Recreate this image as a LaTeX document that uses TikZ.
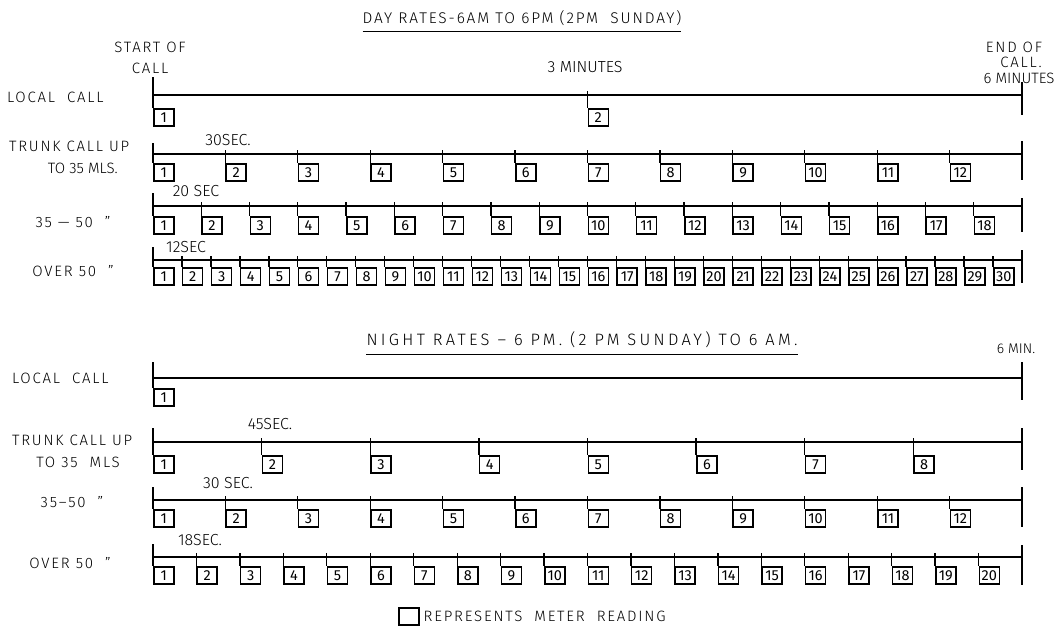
\documentclass[tikz,border=0pt]{standalone}
\usepackage{fontspec}
\setmainfont{Fira Sans}[UprightFont={* Light}]
\newfontfamily\lblfont{Fira Sans}[UprightFont={* Light},LetterSpace=12]
\newfontfamily\widefont{Fira Sans}[UprightFont={* Light},LetterSpace=20]
\newfontfamily\numfont{Fira Sans}
\newcommand\mrow[5]{%
  \coordinate (#1s) at (153,#5);
  \coordinate (#1a) at (153,#2);
  \coordinate (#1b) at (1022,#2);
  \draw[tl] (#1a) -- (#1b);
  \pgfmathsetmacro\stp{869/#4}
  \foreach \i in {1,...,#4} {
    \pgfmathsetmacro\xx{153+(\i-1)*\stp}
    \node[mbox] (#1-\i) at (\xx,#3) {\i};
    \coordinate (#1t-\i) at (\xx,#2-4);
    \draw[tk] (#1t-\i) -- (#1-\i.north west);
  }
  \draw[tk] (#1s) -- (#1-1.north west);
}
\newcommand\lastmark[3]{%
  \coordinate (#1u) at (1022,#2);
  \coordinate (#1v) at (1022,#3);
  \draw[tk] (#1u) -- (#1v);
}
\begin{document}
\begin{tikzpicture}[x=1pt,y=-1pt,
  tl/.style={line width=1.2pt},
  tk/.style={line width=1.3pt},
  mbox/.style={draw, line width=1.5pt, minimum width=20pt, minimum height=17pt, inner sep=0pt, anchor=north west, font=\numfont\fontsize{14.5}{14.5}\selectfont},
  lbl/.style={font=\lblfont\fontsize{15}{15}\selectfont, inner sep=0pt, align=center},
  ttl/.style={font=\lblfont\fontsize{15.5}{15.5}\selectfont, inner sep=0pt},
  wttl/.style={font=\widefont\fontsize{16.5}{16.5}\selectfont, inner sep=0pt},
  sm/.style={font=\fontsize{16}{16}\selectfont, inner sep=0pt, align=center}]
\useasboundingbox (0,0) rectangle (1059,625);
% ---------- DAY ----------
\node[ttl] (dtitle) at (522,18) {DAY RATES-6AM TO 6PM (2PM \ SUNDAY)};
\draw[line width=1.1pt] ([yshift=-6pt]dtitle.south west) -- ([yshift=-6pt]dtitle.south east);
\node[lbl] (start1) at (150,47) {START OF};
\node[lbl] (start2) at (150,68) {CALL};
\node[sm] (threemin) at (585,67) {3 MINUTES};
\node[lbl] (end1) at (1014,47) {END OF};
\node[lbl] (end2) at (1021,62) {CALL.};
\node[lbl, font=\fontsize{15}{15}\selectfont] (end3) at (1019,78) {6 MINUTES};
\node[lbl, anchor=west] (l1) at (7,97) {LOCAL \ CALL};
\node[lbl, anchor=west] (l2) at (9,146) {TRUNK CALL UP};
\node[sm, anchor=east, font=\fontsize{15}{15}\selectfont] (l2b) at (118,168) {TO 35 MLS.};
\node[lbl] (l3) at (73,222) {35 — 50 \ ”};
\node[lbl] (l4) at (73,271) {OVER 50 \ ”};
\node[sm] (s1) at (228,140) {30SEC.};
\node[sm] (s2) at (196,191) {20 SEC};
\node[sm] (s3) at (186,247) {12SEC};
\mrow{dl}{95}{108}{2}{77}
\mrow{dt}{154}{163}{12}{143}
\mrow{dm}{206}{216}{18}{193}
\mrow{do}{260}{267}{30}{247}
\lastmark{dle}{82}{115}
\lastmark{dte}{141}{180}
\lastmark{dme}{198}{232}
\lastmark{doe}{250}{283}
% ---------- NIGHT ----------
\node[wttl] (ntitle) at (582,340) {NIGHT RATES – 6 PM. (2 PM SUNDAY) TO 6 AM.};
\draw[line width=1.1pt] ([yshift=-6pt]ntitle.south west) -- ([yshift=-6pt]ntitle.south east);
\node[sm, font=\fontsize{14}{14}\selectfont] (sixmin) at (1016,349) {6 MIN.};
\node[lbl, anchor=west] (n1) at (12,378) {LOCAL \ CALL};
\node[lbl, anchor=west] (n2) at (12,440) {TRUNK CALL UP};
\node[lbl, anchor=east] (n2b) at (120,462) {TO 35 \ MLS};
\node[lbl] (n3) at (72,502) {35–50 \ ”};
\node[lbl] (n4) at (70,563) {OVER 50 \ ”};
\node[sm] (t1) at (270,424) {45SEC.};
\node[sm] (t2) at (228,483) {30 SEC.};
\node[sm] (t3) at (200,540) {18SEC.};
\begin{scope}[tl/.style={line width=2pt}]
\mrow{nl}{378}{388}{1}{362}
\end{scope}
\mrow{nt}{442}{455}{8}{428}
\mrow{nm}{500}{509}{12}{487}
\mrow{no}{557}{566}{20}{544}
\lastmark{nle}{362}{400}
\lastmark{nte}{428}{470}
\lastmark{nme}{487}{527}
\lastmark{noe}{545}{585}
% ---------- LEGEND ----------
\node[mbox] (leg) at (398,607) {};
\node[lbl, anchor=west] (legt) at ([xshift=4pt]leg.east) {REPRESENTS \ METER \ READING};
\end{tikzpicture}
\end{document}
